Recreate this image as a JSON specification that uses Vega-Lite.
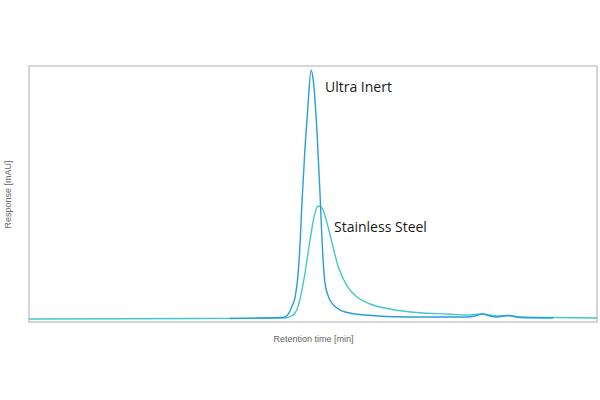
{
  "$schema": "https://vega.github.io/schema/vega-lite/v6.json",
  "autosize": "none",
  "width": 568,
  "height": 256,
  "padding": {"left": 29, "top": 66, "right": 3, "bottom": 78},
  "config": {"view": {"stroke": "#c6c6ce", "strokeWidth": 1.5}},
  "datasets": {
    "curves": [
      {"series": "Stainless Steel", "t": 0, "r": 1.17},
      {"series": "Stainless Steel", "t": 6.021, "r": 1.37},
      {"series": "Stainless Steel", "t": 9.014, "r": 1.56},
      {"series": "Stainless Steel", "t": 9.19, "r": 2.1},
      {"series": "Stainless Steel", "t": 9.366, "r": 3.52},
      {"series": "Stainless Steel", "t": 9.472, "r": 6.0},
      {"series": "Stainless Steel", "t": 9.542, "r": 8.98},
      {"series": "Stainless Steel", "t": 9.718, "r": 19.1},
      {"series": "Stainless Steel", "t": 9.894, "r": 32.0},
      {"series": "Stainless Steel", "t": 10.07, "r": 42.6},
      {"series": "Stainless Steel", "t": 10.176, "r": 45.3},
      {"series": "Stainless Steel", "t": 10.317, "r": 44.5},
      {"series": "Stainless Steel", "t": 10.493, "r": 38.7},
      {"series": "Stainless Steel", "t": 10.669, "r": 30.9},
      {"series": "Stainless Steel", "t": 10.88, "r": 21.9},
      {"series": "Stainless Steel", "t": 11.197, "r": 14.1},
      {"series": "Stainless Steel", "t": 11.549, "r": 9.77},
      {"series": "Stainless Steel", "t": 12.007, "r": 7.03},
      {"series": "Stainless Steel", "t": 12.711, "r": 5.08},
      {"series": "Stainless Steel", "t": 13.873, "r": 3.52},
      {"series": "Stainless Steel", "t": 14.718, "r": 3.13},
      {"series": "Stainless Steel", "t": 15.423, "r": 2.73},
      {"series": "Stainless Steel", "t": 15.951, "r": 3.13},
      {"series": "Stainless Steel", "t": 16.479, "r": 2.34},
      {"series": "Stainless Steel", "t": 16.866, "r": 2.54},
      {"series": "Stainless Steel", "t": 17.289, "r": 1.95},
      {"series": "Stainless Steel", "t": 18.451, "r": 1.76},
      {"series": "Stainless Steel", "t": 20, "r": 1.56},
      {"series": "Ultra Inert", "t": 7.077, "r": 1.37},
      {"series": "Ultra Inert", "t": 8.838, "r": 1.76},
      {"series": "Ultra Inert", "t": 9.014, "r": 2.0},
      {"series": "Ultra Inert", "t": 9.19, "r": 4.3},
      {"series": "Ultra Inert", "t": 9.26, "r": 6.2},
      {"series": "Ultra Inert", "t": 9.366, "r": 9.4},
      {"series": "Ultra Inert", "t": 9.472, "r": 18.4},
      {"series": "Ultra Inert", "t": 9.542, "r": 30.1},
      {"series": "Ultra Inert", "t": 9.613, "r": 47.0},
      {"series": "Ultra Inert", "t": 9.718, "r": 68.0},
      {"series": "Ultra Inert", "t": 9.824, "r": 84.8},
      {"series": "Ultra Inert", "t": 9.93, "r": 98.4},
      {"series": "Ultra Inert", "t": 10.0, "r": 95.3},
      {"series": "Ultra Inert", "t": 10.141, "r": 74.2},
      {"series": "Ultra Inert", "t": 10.246, "r": 50.4},
      {"series": "Ultra Inert", "t": 10.317, "r": 32.0},
      {"series": "Ultra Inert", "t": 10.423, "r": 15.2},
      {"series": "Ultra Inert", "t": 10.599, "r": 8.59},
      {"series": "Ultra Inert", "t": 10.845, "r": 5.47},
      {"series": "Ultra Inert", "t": 11.127, "r": 3.91},
      {"series": "Ultra Inert", "t": 11.831, "r": 2.73},
      {"series": "Ultra Inert", "t": 13.31, "r": 1.95},
      {"series": "Ultra Inert", "t": 14.824, "r": 1.95},
      {"series": "Ultra Inert", "t": 15.423, "r": 1.95},
      {"series": "Ultra Inert", "t": 15.704, "r": 2.34},
      {"series": "Ultra Inert", "t": 15.951, "r": 3.13},
      {"series": "Ultra Inert", "t": 16.232, "r": 2.34},
      {"series": "Ultra Inert", "t": 16.479, "r": 1.95},
      {"series": "Ultra Inert", "t": 16.866, "r": 2.54},
      {"series": "Ultra Inert", "t": 17.289, "r": 1.76},
      {"series": "Ultra Inert", "t": 18.451, "r": 1.56}
    ],
    "labels": [
      {"series": "Ultra Inert", "t": 10.42, "r": 91.4},
      {"series": "Stainless Steel", "t": 10.74, "r": 36.7}
    ]
  },
  "layer": [
    {
      "data": {"name": "curves"},
      "transform": [{"filter": "datum.series === 'Stainless Steel'"}],
      "mark": {"type": "line", "interpolate": "monotone", "strokeWidth": 1.4, "color": "#45c8c8"},
      "encoding": {
        "x": {"field": "t", "type": "quantitative", "scale": {"domain": [0, 20], "nice": false}, "axis": {"title": "Retention time [min]", "domain": false, "ticks": false, "labels": false, "grid": false, "titleFont": "Liberation Sans", "titleFontSize": 9, "titleFontWeight": "normal", "titleColor": "#666666", "titlePadding": 12}},
        "y": {"field": "r", "type": "quantitative", "scale": {"domain": [0, 100], "nice": false}, "axis": {"title": "Response [mAU]", "domain": false, "ticks": false, "labels": false, "grid": false, "titleFont": "Liberation Sans", "titleFontSize": 9, "titleFontWeight": "normal", "titleColor": "#666666", "titlePadding": 17}}
      }
    },
    {
      "data": {"name": "curves"},
      "transform": [{"filter": "datum.series === 'Ultra Inert'"}],
      "mark": {"type": "line", "interpolate": "monotone", "strokeWidth": 1.4, "color": "#2a9ddc"},
      "encoding": {
        "x": {"field": "t", "type": "quantitative"},
        "y": {"field": "r", "type": "quantitative"}
      }
    },
    {
      "data": {"name": "labels"},
      "mark": {"type": "text", "align": "left", "baseline": "middle", "font": "Open Sans", "fontSize": 14, "color": "#1a1a1a"},
      "encoding": {
        "x": {"field": "t", "type": "quantitative"},
        "y": {"field": "r", "type": "quantitative"},
        "text": {"field": "series"}
      }
    }
  ]
}
